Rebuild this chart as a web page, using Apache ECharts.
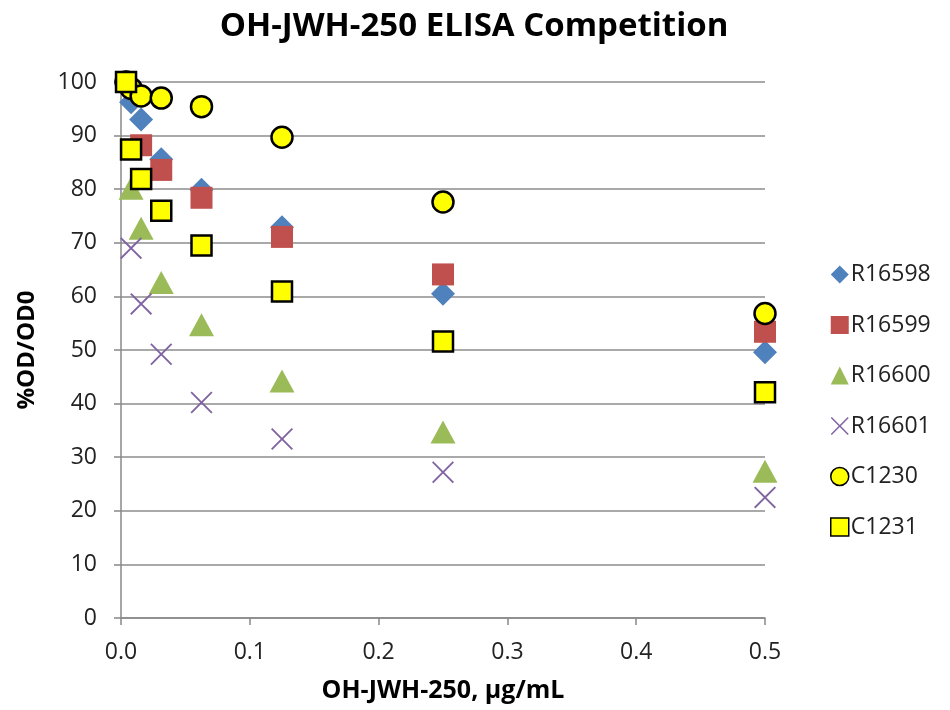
<!DOCTYPE html>
<html><head><meta charset="utf-8">
<script src="https://cdn.jsdelivr.net/npm/echarts@6/dist/echarts.min.js"></script>
<style>html,body{margin:0;padding:0;background:#fff}#c{width:950px;height:710px}</style>
</head><body><div id="c"></div>
<script>
const conc = [0.00390625, 0.0078125, 0.015625, 0.03125, 0.0625, 0.125, 0.25, 0.5];
const R16598 = [100, 96.2, 93.0, 85.6, 79.9, 72.9, 60.5, 49.6];
const R16599 = [null, null, 88.2, 83.6, 78.4, 71.1, 64.1, 53.4];
const R16600 = [null, 80.2, 72.7, 62.6, 54.7, 44.2, 34.7, 27.4];
const R16601 = [null, 69.0, 58.6, 49.2, 40.2, 33.4, 27.2, 22.5];
const C1230 = [100, 98.8, 97.4, 97.0, 95.4, 89.7, 77.6, 56.8];
const C1231 = [100, 87.4, 81.9, 76.0, 69.5, 60.9, 51.6, 42.1];
const seriesNames = ['R16598', 'R16599', 'R16600', 'R16601', 'C1230', 'C1231'];
const seriesVals = [R16598, R16599, R16600, R16601, C1230, C1231];

const F = '"Open Sans", "Liberation Sans", sans-serif';
const xPath = 'path://M0,0.6 L0.6,0 L5,4.4 L9.4,0 L10,0.6 L5.6,5 L10,9.4 L9.4,10 L5,5.6 L0.6,10 L0,9.4 L4.4,5 Z';
const styles = [
  {symbol: 'diamond', symbolSize: [24, 24], itemStyle: {color: '#4F81BD', opacity: 1}},
  {symbol: 'rect', symbolSize: 22, itemStyle: {color: '#C0504D', opacity: 1}},
  {symbol: 'triangle', symbolSize: [25, 23], itemStyle: {color: '#9BBB59', opacity: 1}},
  {symbol: xPath, symbolSize: 22, itemStyle: {color: '#8064A2', opacity: 1}},
  {symbol: 'circle', symbolSize: 21, itemStyle: {color: '#FFFF00', borderColor: '#000', borderWidth: 2.5, opacity: 1}},
  {symbol: 'rect', symbolSize: 20, itemStyle: {color: '#FFFF00', borderColor: '#000', borderWidth: 2.5, opacity: 1}}
];
const legendIcons = ['diamond', 'rect', 'triangle', xPath, 'circle', 'rect'];

const series = seriesNames.map((n, i) => ({
  name: n, type: 'scatter',
  data: conc.map((x, j) => seriesVals[i][j] == null ? null : [x, seriesVals[i][j]]).filter(d => d),
  symbol: styles[i].symbol, symbolSize: styles[i].symbolSize,
  itemStyle: styles[i].itemStyle, z: 2 + i
}));

const chart = echarts.init(document.getElementById('c'), null, {renderer: 'canvas'});
chart.setOption({
  animation: false,
  backgroundColor: '#fff',
  title: {text: 'OH-JWH-250 ELISA Competition', left: 469, top: 5, textAlign: 'center',
    textStyle: {fontFamily: F, fontWeight: 'bold', fontSize: 33, color: '#000'}},
  grid: {left: 121, top: 82, width: 644, height: 536, outerBoundsMode: 'none', containLabel: false},
  legend: {
    orient: 'vertical', left: 825, top: 258, itemGap: 27.5, itemWidth: 18, itemHeight: 18,
    data: seriesNames.map((n, i) => ({name: n, icon: legendIcons[i],
      itemStyle: i >= 4 ? {color: '#FFFF00', borderColor: '#000', borderWidth: 1.5} : {opacity: 1}})),
    textStyle: {fontFamily: F, fontSize: 23, color: '#222', padding: [0, 0, 0, -3]}
  },
  xAxis: {
    type: 'value', min: 0, max: 0.5, interval: 0.1,
    name: 'OH-JWH-250, µg/mL', nameLocation: 'middle', nameGap: 60,
    nameTextStyle: {fontFamily: F, fontWeight: 'bold', fontSize: 25, color: '#000'},
    axisLine: {show: true, lineStyle: {color: '#888', width: 1.5}},
    axisTick: {show: true, length: 7, lineStyle: {color: '#888', width: 1.5}},
    axisLabel: {fontFamily: F, fontSize: 23, color: '#222', margin: 23, formatter: v => v.toFixed(1)},
    splitLine: {show: false}
  },
  yAxis: {
    type: 'value', min: 0, max: 100, interval: 10,
    name: '%OD/OD0', nameLocation: 'middle', nameGap: 82, nameRotate: 90,
    nameTextStyle: {fontFamily: F, fontWeight: 'bold', fontSize: 24, color: '#000'},
    axisLine: {show: true, lineStyle: {color: '#888', width: 1.5}},
    axisTick: {show: true, length: 7, lineStyle: {color: '#888', width: 1.5}},
    axisLabel: {fontFamily: F, fontSize: 23, color: '#222', margin: 24},
    splitLine: {show: true, lineStyle: {color: '#8c8c8c', width: 1.5}}
  },
  series: series
});
</script></body></html>
